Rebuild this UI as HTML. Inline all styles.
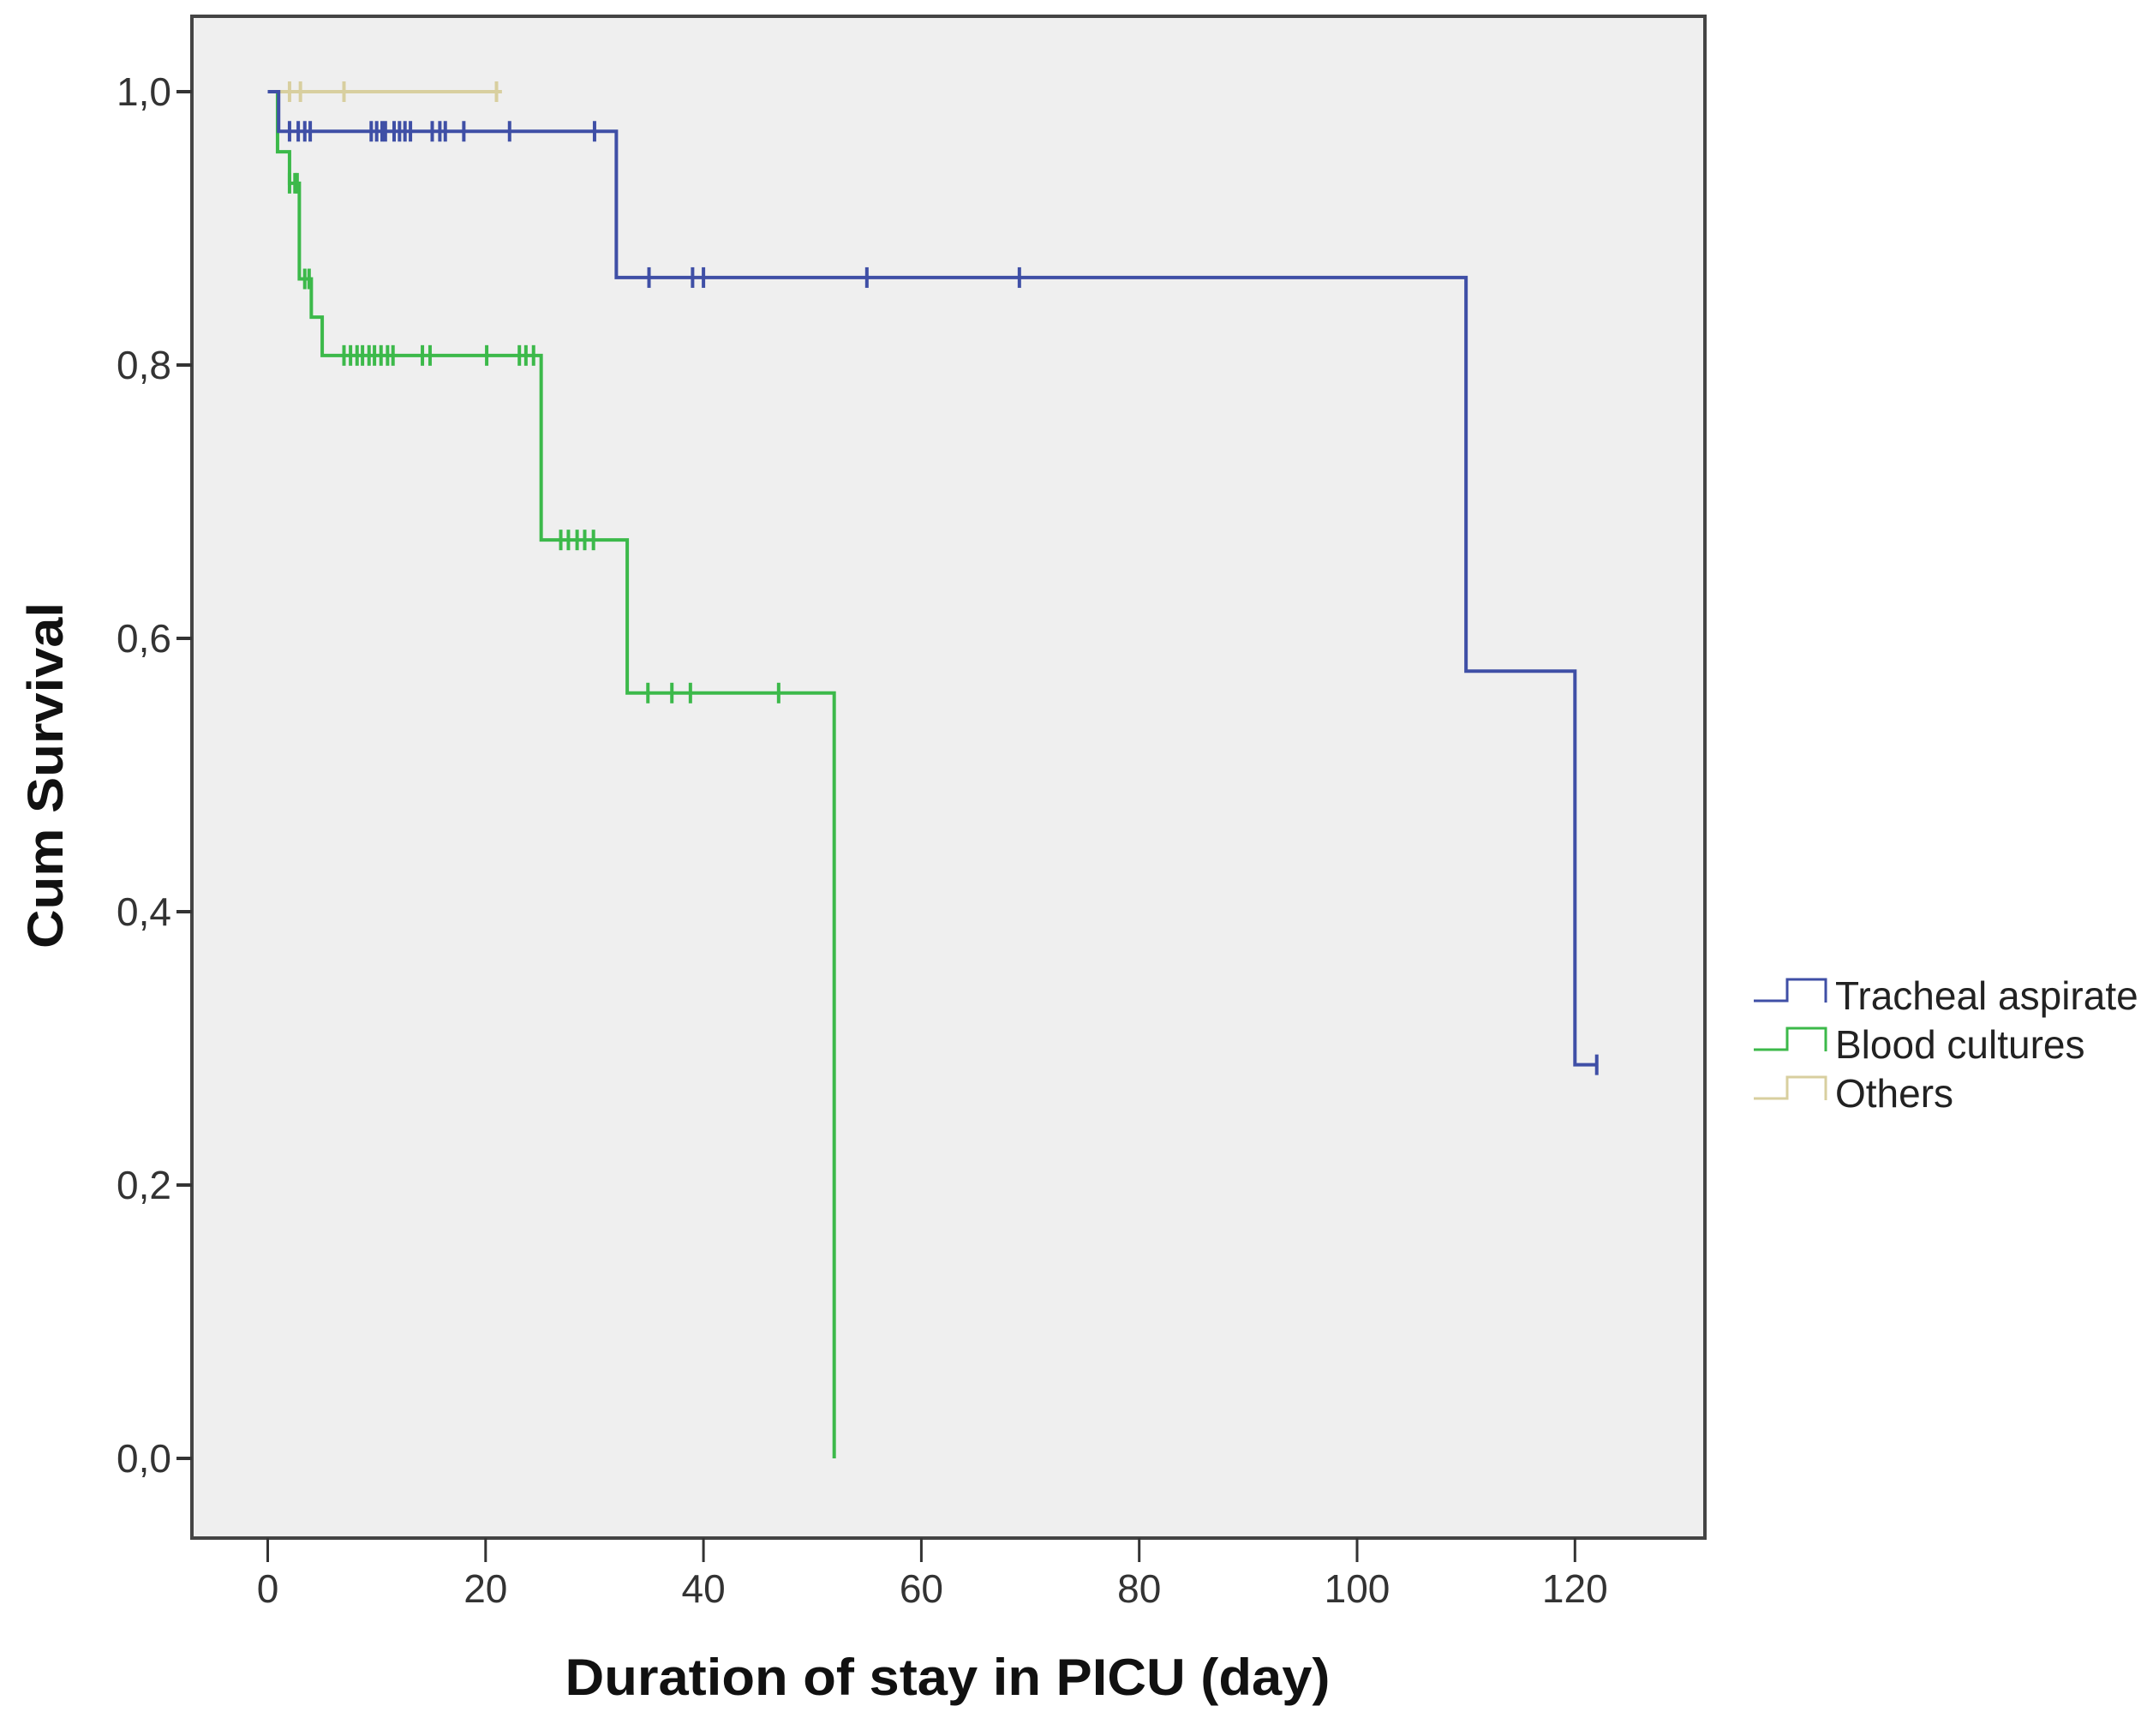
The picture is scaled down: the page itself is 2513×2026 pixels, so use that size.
<!DOCTYPE html>
<html><head><meta charset="utf-8"><style>
html,body{margin:0;padding:0;background:#fff;}
svg{display:block;font-family:"Liberation Sans",sans-serif;}
</style></head><body>
<svg id="chart" width="2513" height="2026" viewBox="0 0 2513 2026" xmlns="http://www.w3.org/2000/svg">
<rect x="224" y="19" width="1766" height="1776" fill="#efefef" stroke="#444" stroke-width="4"/>
<g id="axes"></g>
<g id="series"></g>
<text x="1106" y="1978" text-anchor="middle" font-weight="bold" font-size="60" textLength="893" lengthAdjust="spacingAndGlyphs" fill="#111">Duration of stay in PICU (day)</text>
<text transform="translate(73,905) rotate(-90)" text-anchor="middle" font-weight="bold" font-size="58" textLength="404" lengthAdjust="spacingAndGlyphs" fill="#111">Cum Survival</text>
<g>
 <g>
  <polyline points="2047,1168 2086,1168 2086,1143 2131,1143 2131,1170" fill="none" stroke="#3f4fa6" stroke-width="3"/>
  <text x="2142" y="1178" font-size="46" fill="#222">Tracheal aspirate</text>
 </g>
 <g>
  <polyline points="2047,1225 2086,1225 2086,1200 2131,1200 2131,1227" fill="none" stroke="#3cb94a" stroke-width="3"/>
  <text x="2142" y="1235" font-size="46" fill="#222">Blood cultures</text>
 </g>
 <g>
  <polyline points="2047,1282 2086,1282 2086,1257 2131,1257 2131,1284" fill="none" stroke="#d8cf9f" stroke-width="3"/>
  <text x="2142" y="1292" font-size="46" fill="#222">Others</text>
 </g>
</g>
</svg>
<script>
const xTicks=[0,20,40,60,80,100,120];
const yTicks=[0,0.2,0.4,0.6,0.8,1.0];
const yTickLabels=["0,0","0,2","0,4","0,6","0,8","1,0"];
// Tracheal aspirate
const trTimes=[0,1,32,110,120,122];
const trSurv=[1.0,0.971,0.864,0.576,0.288,0.288];
const trCensor=[2.0,2.8,3.4,3.9,9.5,10,10.5,10.8,11.6,12.1,12.6,13.1,15.1,15.8,16.3,18,22.2,30,35,39,40,55,69,122];
// Blood cultures
const blTimes=[0,0.9,2.0,2.9,4.0,5.0,25.1,33,52,52];
const blSurv=[1.0,0.956,0.933,0.863,0.835,0.807,0.672,0.56,0.0,0.0];
const blCensor=[2.0,2.5,2.7,3.4,3.8,7.0,7.6,8.2,8.7,9.3,9.8,10.4,11,11.5,14.2,14.9,20.1,23.1,23.7,24.4,26.9,27.6,28.4,29.1,29.9,34.9,37.1,38.8,46.9];
// Others
const otTimes=[0,21.5];
const otSurv=[1.0,1.0];
const otCensor=[2.0,3.0,7.0,21.0];

const NS="http://www.w3.org/2000/svg";
const X=d=>312.5+d*(1838.3-312.5)/120;
const Y=v=>1702-v*(1702-107);
const axes=document.getElementById('axes');
const ser=document.getElementById('series');
function mk(tag,attrs,parent){const e=document.createElementNS(NS,tag);for(const k in attrs)e.setAttribute(k,attrs[k]);parent.appendChild(e);return e;}
yTicks.forEach((v,i)=>{
 const t=mk('line',{x1:206,x2:224,y1:Y(v),y2:Y(v),stroke:'#333','stroke-width':4},axes);
 
 
 const l=mk('text',{x:200,y:Y(v)+16,'text-anchor':'end','font-size':46,fill:'#333'},axes);
 l.textContent=yTickLabels[i];
 
 
});
xTicks.forEach(d=>{
 const t=mk('line',{x1:X(d),x2:X(d),y1:1795,y2:1823,stroke:'#333','stroke-width':3},axes);
 
 
 const l=mk('text',{x:X(d),y:1870,'text-anchor':'middle','font-size':46,fill:'#333'},axes);
 l.textContent=String(d);
 
 
});
function survAt(times,surv,t){let s=surv[0];for(let i=0;i<times.length;i++){if(times[i]<=t)s=surv[i];}return s;}
function drawSeries(times,surv,cens,color,name){
 let pts=[];
 for(let i=0;i<times.length;i++){
  if(i>0)pts.push(X(times[i])+','+Y(surv[i-1]));
  pts.push(X(times[i])+','+Y(surv[i]));
 }
 const p=mk('polyline',{points:pts.join(' '),fill:'none',stroke:color,'stroke-width':4},ser);
 
 
 cens.forEach(c=>{
  const s=survAt(times,surv,c);
  const m=mk('line',{x1:X(c),x2:X(c),y1:Y(s)-12,y2:Y(s)+12,stroke:color,'stroke-width':4},ser);
  
  
 });
}
drawSeries(otTimes,otSurv,otCensor,'#d8cf9f','others');
drawSeries(blTimes,blSurv,blCensor,'#3cb94a','blood-cultures');
drawSeries(trTimes,trSurv,trCensor,'#3f4fa6','tracheal-aspirate');
</script>
</body></html>
